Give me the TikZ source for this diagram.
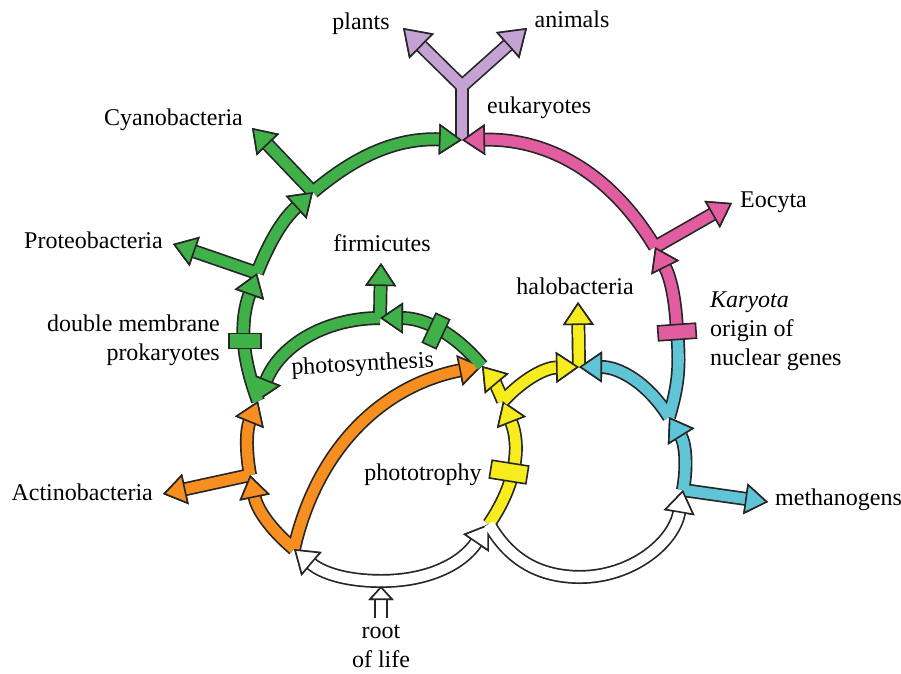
\documentclass[tikz,border=0pt]{standalone}
\usepackage{fontspec}
\setmainfont{Liberation Serif}
\usetikzlibrary{arrows.meta}
\pgfdeclarelayer{bg}
\pgfsetlayers{bg,main}

\definecolor{grn}{RGB}{64,176,73}
\definecolor{pnk}{RGB}{226,93,160}
\definecolor{lav}{RGB}{196,162,212}
\definecolor{org}{RGB}{246,142,32}
\definecolor{ylw}{RGB}{246,236,30}
\definecolor{cyn}{RGB}{95,196,214}

\newcommand\arrowseg[3][head]{%
  \begin{pgfonlayer}{bg}\draw[rim,#1=#2] #3;\end{pgfonlayer}
  \draw[core=#2,#1=#2] #3;}
\newcommand\plainseg[2]{%
  \begin{pgfonlayer}{bg}\draw[rim] #2;\end{pgfonlayer}
  \draw[core=#1] #2;}

\begin{document}
\begin{tikzpicture}[x=1pt, y=-1pt,
    rim/.style={line width=14pt, draw=black!85},
    core/.style={line width=10.6pt, draw=#1},
    head/.style={-{Triangle[length=23pt, width=31pt, line width=1.6pt, color=black!85, fill=#1]}},
    bighead/.style={-{Triangle[length=26pt, width=35pt, line width=1.6pt, color=black!85, fill=#1]}},
    roothead/.style={-{Triangle[length=14pt, width=25pt, line width=1.6pt, color=black!85, fill=#1]}},
    bar/.style={draw=black!85, line width=1.6pt, fill=#1, minimum height=15pt, inner sep=0pt},
    lbl/.style={font=\fontsize{24}{29}\selectfont, inner sep=0pt}
]
    \useasboundingbox (0,0) rectangle (901,673);

    \coordinate (T)   at (462,140);
    \coordinate (Yk)  at (462,86);
    \coordinate (plT) at (403,28);
    \coordinate (anT) at (527,28);
    \coordinate (C1)  at (313,192);
    \coordinate (cyT) at (252,128);
    \coordinate (P1)  at (257,273);
    \coordinate (prT) at (173,244);
    \coordinate (G1)  at (258,401);
    \coordinate (A)   at (250,475);
    \coordinate (acT) at (163,494);
    \coordinate (O0)  at (294,549);
    \coordinate (RT)  at (380,581);
    \coordinate (W2)  at (489,524);
    \coordinate (Y2)  at (503,401);
    \coordinate (P)   at (482,366);
    \coordinate (F)   at (380,318);
    \coordinate (fiT) at (381,263);
    \coordinate (H)   at (579,367);
    \coordinate (haT) at (578,302);
    \coordinate (Cx)  at (669,417);
    \coordinate (K)   at (677,332);
    \coordinate (E)   at (655,247);
    \coordinate (eoT) at (732,203);
    \coordinate (M)   at (683,490);
    \coordinate (meT) at (768,502);
    \coordinate (Rb)  at (580,577);
    \coordinate (rS)  at (381,618);
    \coordinate (rE)  at (381,586);

    \plainseg{lav}{(T) -- (Yk)}
    \arrowseg[bighead]{lav}{(Yk) -- (plT)}
    \arrowseg[bighead]{lav}{(Yk) -- (anT)}

    \foreach \s/\t/\col in {P1/prT/grn, C1/cyT/grn, F/fiT/grn, A/acT/org, H/haT/ylw, E/eoT/pnk, M/meT/cyn}
        \arrowseg{\col}{(\s) -- (\t)};

    \arrowseg{org}{(O0) to[bend left=19] (A)}
    \arrowseg{org}{(A) to[bend left=16] (G1)}
    \arrowseg{org}{(O0) to[bend left=33] (P)}

    \arrowseg{ylw}{(W2) to[bend right=28] (Y2)}
    \arrowseg{ylw}{(Y2) to[bend right=9] (P)}
    \arrowseg{ylw}{(Y2) to[bend left=23] (H)}

    \arrowseg{cyn}{(M) to[bend right=21] (Cx)}
    \arrowseg{cyn}{(Cx) to[bend right=29] (H)}
    \plainseg{cyn}{(Cx) to[bend right=11] (K)}

    \arrowseg{pnk}{(K) to[bend right=12] (E)}
    \arrowseg{pnk}{(E) to[bend right=30] (T)}

    \arrowseg{grn}{(P) to[bend right=25] (F)}
    \arrowseg{grn}{(F) to[bend right=34] (G1)}
    \arrowseg{grn}{(G1) to[bend left=20] (P1)}
    \arrowseg{grn}{(P1) to[bend left=13] (C1)}
    \arrowseg{grn}{(C1) to[bend left=21] (T)}

    \arrowseg{white}{(RT) to[bend left=20] (O0)}
    \arrowseg{white}{(RT) to[bend right=28] (W2)}
    \plainseg{white}{(W2) to[bend right=30] (Rb)}
    \arrowseg{white}{(Rb) to[bend right=40] (M)}
    \arrowseg[roothead]{white}{(rS) -- (rE)}

    \node[bar=grn, minimum width=32pt] (dmbar) at (245,341) {};
    \node[bar=grn, minimum width=32pt, rotate=65] (psbar) at (436,331) {};
    \node[bar=ylw, minimum width=37pt, minimum height=18pt, rotate=-9] (ptbar) at (509,472) {};
    \node[bar=pnk, minimum width=38pt, rotate=4] (kbar) at (677,332) {};

    \node[lbl, anchor=base] (plants) at (361,29) {plants};
    \node[lbl, anchor=base] (animals) at (572,27) {animals};
    \node[lbl, anchor=base west] (euk) at (487,113) {eukaryotes};
    \node[lbl, anchor=base east] (cyano) at (243,125) {Cyanobacteria};
    \node[lbl, anchor=base west] (eocyta) at (740,207) {Eocyta};
    \node[lbl, anchor=base east] (proteo) at (163,248) {Proteobacteria};
    \node[lbl, anchor=base] (firmi) at (382,251) {firmicutes};
    \node[lbl, anchor=base] (halo) at (575,294) {halobacteria};
    \node[lbl, anchor=base east, align=right] (dmp) at (220,360) {double membrane\\prokaryotes};
    \node[lbl, anchor=base west, align=left] (kary) at (710,365) {\textit{Karyota}\\origin of\\nuclear genes};
    \node[lbl, anchor=base, rotate=3] (photos) at (363,371) {photosynthesis};
    \node[lbl, anchor=base] (phototr) at (423,480) {phototrophy};
    \node[lbl, anchor=base east] (actino) at (153,500) {Actinobacteria};
    \node[lbl, anchor=base west] (metha) at (775,505) {methanogens};
    \node[lbl, anchor=base, align=center] (root) at (381,667) {root\\of life};
\end{tikzpicture}
\end{document}
